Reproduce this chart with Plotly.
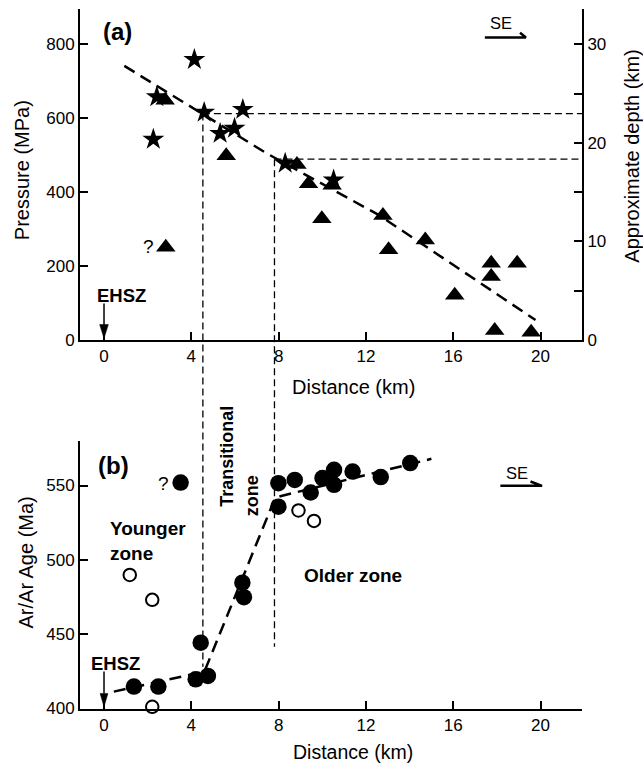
import plotly.graph_objects as go

# ---------------- data ----------------
# Panel (a): pressure estimates vs distance
star_dist = [2.26, 2.42, 4.14, 4.59, 5.32, 5.98, 6.36, 8.30, 10.52]
star_pres = [543, 658, 759, 616, 559, 573, 624, 478, 433]

tri_dist = [2.80, 2.83, 5.60, 8.84, 9.37, 9.98, 10.45, 12.78, 13.04, 14.72,
            16.07, 17.74, 17.74, 18.93, 17.90, 19.57]
tri_pres = [649, 251, 499, 475, 423, 328, 419, 337, 244, 271,
            121, 208, 172, 208, 26, 21]

fit_a_dist = [0.93, 7.46, 12.6, 19.77]
fit_a_pres = [742, 505, 338, 54]

# Panel (b): Ar/Ar ages vs distance
age_fill_dist = [3.51, 7.99, 8.74, 9.47, 7.99, 10.01, 10.54, 10.54, 11.39, 12.68,
                 14.03, 4.43, 4.20, 4.76, 1.37, 2.49, 6.34, 6.41]
age_fill = [552.0, 551.6, 553.8, 545.3, 535.8, 555.0, 560.6, 550.5, 559.4, 555.7,
            565.1, 444.2, 419.5, 421.8, 414.6, 414.6, 484.6, 474.8]

age_open_dist = [1.18, 2.21, 2.21, 8.91, 9.62]
age_open = [489.8, 473.0, 401.0, 533.2, 526.2]

fit_b_dist = [0.45, 4.6, 7.85, 15.0]
fit_b_age = [411.2, 424.7, 542.0, 568.0]

# zone boundaries
bound_dist = [4.53, 7.81]
bound_pres = [613, 489.5]
bound_age_end = [428, 441.5]

dist_ticks = [0, 4, 8, 12, 16, 20]
pres_ticks = [0, 200, 400, 600, 800]
depth_ticks = [0, 10, 20, 30]
age_ticks = [400, 450, 500, 550]

# ---------------- layout geometry ----------------
W, H = 643, 765
ML, MR, MT, MB = 80, 61, 9, 56
X_RANGE = [-1.1, 21.9]
P_RANGE = [0, 896]
D_RANGE = [0, 896 * 30 / 800]
A_RANGE = [399.5, 580]
DOM_A = [(H - MB - 340) / (H - MT - MB), 1.0]
DOM_B = [0.0, (H - MB - 441) / (H - MT - MB)]


def fx(px):
    return (px - ML) / (W - ML - MR)


def fy(py):
    return (H - MB - py) / (H - MT - MB)


def pa(p):
    return DOM_A[0] + (p - P_RANGE[0]) / (P_RANGE[1] - P_RANGE[0]) * (DOM_A[1] - DOM_A[0])


def pb(a):
    return DOM_B[0] + (a - A_RANGE[0]) / (A_RANGE[1] - A_RANGE[0]) * (DOM_B[1] - DOM_B[0])


FONT = "Liberation Sans, Arial, sans-serif"
BLACK = "black"

fig = go.Figure()

# panel (a)
fig.add_trace(go.Scatter(x=fit_a_dist, y=fit_a_pres, mode="lines",
                         line=dict(color=BLACK, width=2.5, dash="12px,7px"),
                         xaxis="x", yaxis="y", showlegend=False, hoverinfo="skip"))
fig.add_trace(go.Scatter(x=tri_dist, y=tri_pres, mode="markers",
                         marker=dict(symbol="triangle-up", size=17, color=BLACK, line=dict(width=0)),
                         xaxis="x", yaxis="y", showlegend=False))
fig.add_trace(go.Scatter(x=star_dist, y=star_pres, mode="markers",
                         marker=dict(symbol="star", size=16.5, color=BLACK, line=dict(width=0)),
                         xaxis="x", yaxis="y", showlegend=False))
# dummy trace so that the depth axis is drawn
fig.add_trace(go.Scatter(x=[None], y=[None], xaxis="x", yaxis="y2", showlegend=False,
                         hoverinfo="skip"))
# SE arrow (a)
fig.add_trace(go.Scatter(x=[17.45, 19.33, 19.06], y=[819, 819, 831.5], mode="lines",
                         line=dict(color=BLACK, width=2.5), xaxis="x", yaxis="y",
                         showlegend=False, hoverinfo="skip"))

# panel (b)
fig.add_trace(go.Scatter(x=fit_b_dist, y=fit_b_age, mode="lines",
                         line=dict(color=BLACK, width=2.5, dash="12px,7px"),
                         xaxis="x2", yaxis="y3", showlegend=False, hoverinfo="skip"))
fig.add_trace(go.Scatter(x=age_open_dist, y=age_open, mode="markers",
                         marker=dict(symbol="circle", size=12.5, color="white",
                                     line=dict(color=BLACK, width=2)),
                         xaxis="x2", yaxis="y3", showlegend=False, cliponaxis=False))
fig.add_trace(go.Scatter(x=age_fill_dist, y=age_fill, mode="markers",
                         marker=dict(symbol="circle", size=16.5, color=BLACK, line=dict(width=0)),
                         xaxis="x2", yaxis="y3", showlegend=False))
fig.add_trace(go.Scatter(x=[18.16, 20.07, 19.54], y=[549.8, 549.8, 552.7], mode="lines",
                         line=dict(color=BLACK, width=2.5), xaxis="x2", yaxis="y3",
                         showlegend=False, hoverinfo="skip"))

shapes = []
thin = dict(color=BLACK, width=1.3, dash="7px,4px")
# horizontal boundary lines in (a)
for d, p in zip(bound_dist, bound_pres):
    shapes.append(dict(type="line", xref="x", yref="y", x0=d, x1=X_RANGE[1], y0=p, y1=p,
                       line=thin, layer="below"))
# vertical boundary lines spanning both panels
for d, p, a in zip(bound_dist, bound_pres, bound_age_end):
    shapes.append(dict(type="line", xref="x", yref="paper", x0=d, x1=d, y0=pa(p), y1=pb(a),
                       line=thin, layer="below"))
# EHSZ arrows
shapes.append(dict(type="line", xref="x", yref="y", x0=0, x1=0, y0=99, y1=40,
                   line=dict(color=BLACK, width=1.5)))
shapes.append(dict(type="path", xref="x", yref="y", path="M -0.2,42 L 0.2,42 L 0,4.6 Z",
                   fillcolor=BLACK, line=dict(color=BLACK, width=0.5)))
shapes.append(dict(type="line", xref="x2", yref="y3", x0=0, x1=0, y0=424.7, y1=410,
                   line=dict(color=BLACK, width=1.5)))
shapes.append(dict(type="path", xref="x2", yref="y3", path="M -0.18,410 L 0.18,410 L 0,401 Z",
                   fillcolor=BLACK, line=dict(color=BLACK, width=0.5)))

ann = []


def text(s, x, y, size, bold=False, angle=0, xanchor="center", align="center"):
    ann.append(dict(text=(f"<b>{s}</b>" if bold else s), xref="paper", yref="paper",
                    x=fx(x), y=fy(y), xanchor=xanchor, yanchor="middle", showarrow=False,
                    textangle=angle, align=align,
                    font=dict(family=FONT, size=size, color=BLACK)))


text("(a)", 117.5, 31, 24, bold=True)
text("(b)", 113.3, 465, 24, bold=True)
text("EHSZ", 121, 295.7, 18.5, bold=True)
text("EHSZ", 115.5, 663.3, 18.5, bold=True)
text("?", 148, 246.7, 19)
text("?", 163.3, 483, 19)
text("SE", 501, 23.3, 16.5)
text("SE", 516.7, 473.3, 16.5)
text("Younger<br>zone", 108.3, 540.5, 19, bold=True, xanchor="left", align="left")
text("Transitional", 227, 456.7, 18, bold=True, angle=-90)
text("zone", 251.5, 495.8, 18, bold=True, angle=-90)
text("Older zone", 352.8, 575, 19, bold=True)
text("Distance (km)", 353, 386.5, 20)
text("Distance (km)", 353, 752.5, 19.5)
text("Pressure (MPa)", 21.7, 170.5, 20, angle=-90)
text("Ar/Ar Age (Ma)", 25, 562.5, 20, angle=-90)
text("Approximate depth (km)", 632, 156.7, 20, angle=-90)

axis_common = dict(showgrid=False, zeroline=False, showline=True, linecolor=BLACK, linewidth=2,
                   ticks="inside", ticklen=8, tickwidth=2, tickcolor=BLACK,
                   tickfont=dict(family=FONT, size=17, color=BLACK))

fig.update_layout(
    width=W, height=H,
    margin=dict(l=ML, r=MR, t=MT, b=MB, pad=0),
    paper_bgcolor="white", plot_bgcolor="white",
    font=dict(family=FONT, color=BLACK),
    showlegend=False,
    xaxis=dict(domain=[0, 1], range=X_RANGE, anchor="y", tickvals=dist_ticks, **axis_common),
    yaxis=dict(domain=DOM_A, range=P_RANGE, anchor="x", tickvals=pres_ticks, **axis_common),
    yaxis2=dict(overlaying="y", side="right", anchor="x", range=D_RANGE, tickvals=depth_ticks,
                minor=dict(dtick=5, tick0=0, ticks="inside", ticklen=8, tickwidth=2,
                           tickcolor=BLACK),
                **axis_common),
    xaxis2=dict(domain=[0, 1], range=X_RANGE, anchor="y3", tickvals=dist_ticks, **axis_common),
    yaxis3=dict(domain=DOM_B, range=A_RANGE, anchor="x2", tickvals=age_ticks, **axis_common),
    shapes=shapes,
    annotations=ann,
)

fig.write_html("out.html", config={"displayModeBar": False},
               post_script="document.body.style.margin='0';")
